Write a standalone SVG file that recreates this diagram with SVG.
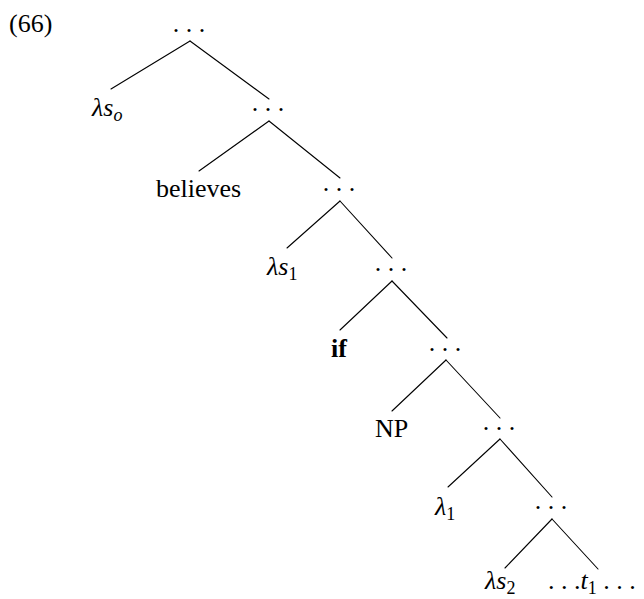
<svg xmlns="http://www.w3.org/2000/svg" width="644" height="599" viewBox="0 0 644 599">
<style>
text{font-family:"Liberation Serif","Times New Roman",serif;font-size:26px;fill:#000}
.m{text-anchor:middle}
.sub{font-size:18px}
.i{font-style:italic}
.b{font-weight:bold}
#edges line{stroke:#000;stroke-width:1.1;stroke-linecap:round}
</style>
<rect width="644" height="599" fill="#fff"/>
<g id="label"><text x="9" y="32">(66)</text></g>
<g id="edges">
<line x1="190" y1="41" x2="111" y2="89"/>
<line x1="190" y1="41" x2="269" y2="99"/>
<line x1="269" y1="121" x2="199" y2="171"/>
<line x1="269" y1="121" x2="340" y2="178"/>
<line x1="340" y1="201" x2="287" y2="248"/>
<line x1="340" y1="201" x2="392" y2="258"/>
<line x1="392" y1="281" x2="340" y2="330"/>
<line x1="392" y1="281" x2="447" y2="338"/>
<line x1="446" y1="360" x2="392" y2="411"/>
<line x1="446" y1="360" x2="500" y2="418"/>
<line x1="500" y1="439" x2="448" y2="487"/>
<line x1="500" y1="439" x2="552" y2="497"/>
<line x1="552" y1="519" x2="505" y2="568"/>
<line x1="552" y1="519" x2="598" y2="569"/>
</g>
<g id="n0"><text class="m" x="189" y="32">. . .</text></g>
<g id="n1"><text x="92" y="116"><tspan class="i">λs</tspan><tspan class="sub i" dy="5">o</tspan></text></g>
<g id="n2"><text class="m" x="268" y="111">. . .</text></g>
<g id="n3"><text class="m" x="198.5" y="197">believes</text></g>
<g id="n4"><text class="m" x="339" y="191">. . .</text></g>
<g id="n5"><text x="267" y="275"><tspan class="i">λs</tspan><tspan class="sub" dy="5">1</tspan></text></g>
<g id="n6"><text class="m" x="391" y="271">. . .</text></g>
<g id="n7"><text class="m b" x="339" y="357">if</text></g>
<g id="n8"><text class="m" x="445" y="351">. . .</text></g>
<g id="n9"><text class="m" x="391.5" y="437">NP</text></g>
<g id="n10"><text class="m" x="499" y="430">. . .</text></g>
<g id="n11"><text x="435" y="515"><tspan class="i">λ</tspan><tspan class="sub" dy="5">1</tspan></text></g>
<g id="n12"><text class="m" x="551" y="509">. . .</text></g>
<g id="n13"><text x="485" y="589"><tspan class="i">λs</tspan><tspan class="sub" dy="5">2</tspan></text></g>
<g id="n14"><text x="548" y="589">. . .<tspan class="i">t</tspan><tspan class="sub" dy="5">1</tspan><tspan dy="-5"> . . .</tspan></text></g>
</svg>
